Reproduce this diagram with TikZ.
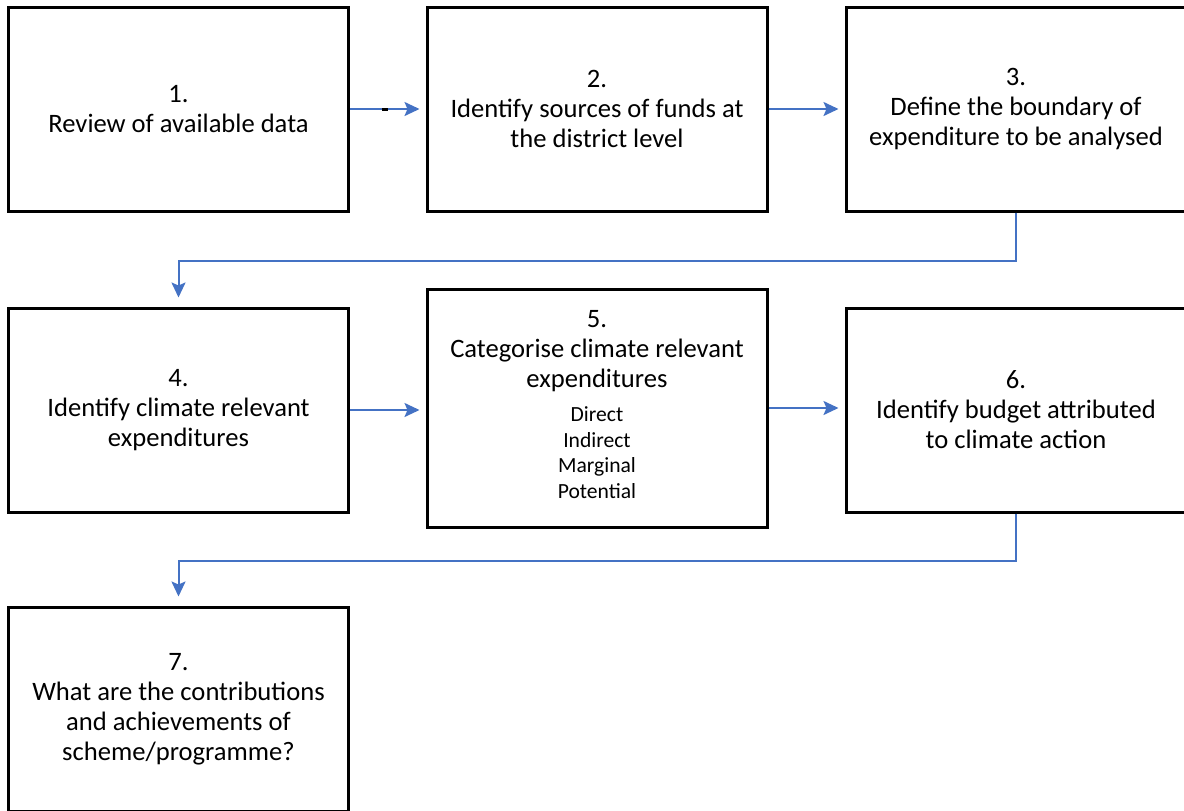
\documentclass[tikz,border=0pt]{standalone}
\usepackage{fontspec}
\setmainfont{Carlito}
\usepackage{xcolor}
\usepackage{tikz}
\usetikzlibrary{arrows.meta}
\definecolor{flowblue}{RGB}{68,114,196}

\begin{document}
\begin{tikzpicture}[x=0.5pt,y=-0.5pt,
			stepbox/.style={draw=black,line width=1.5pt,minimum width=170pt,minimum height=102pt,
				align=center,inner sep=2pt,font=\fontsize{13.3}{15}\selectfont},
			flow/.style={draw=flowblue,line width=1pt,-{Stealth[length=7.5pt,width=7pt,inset=1.5pt]}},
			]
			% page
			\useasboundingbox (0,0) rectangle (1184,810);
			\clip (0,0) rectangle (1184,810);
			
			% first row
			\node[stepbox] (b1) at (178.5,109) {1.\\Review of available data};
			\node[stepbox] (b2) at (597,109) {2.\\Identify sources of funds at\\the district level};
			\node[stepbox] (b3) at (1016,109) {3.\\Define the boundary of\\expenditure to be analysed};
			
			% second row
			\node[stepbox] (b4) at (178.5,410) {4.\\Identify climate relevant\\expenditures};
			\node[stepbox,minimum height=119pt] (b5) at (597,408) {5.\\Categorise climate relevant\\expenditures\\[5pt]
				{\fontsize{10.8}{12.8}\selectfont\begin{tabular}{@{}c@{}}Direct\\Indirect\\Marginal\\Potential\end{tabular}}};
			\node[stepbox] (b6) at (1016,410) {6.\\Identify budget attributed\\to climate action};
			
			% third row
			\node[stepbox] (b7) at (178.5,709) {7.\\What are the contributions\\and achievements of\\scheme/programme?};
			
			% arrows
			\draw[flow,shorten >=3pt] (b1) -- (b2);
			\fill (382,108) rectangle (388,111);
			\draw[flow,shorten >=3pt] (b2) -- (b3);
			\draw[flow,shorten >=4.5pt] (b3.south) -- ++(0,48) -| (b4.north);
			\draw[flow,shorten >=3pt] (b4) -- (b4 -| b5.west);
			\draw[flow,shorten >=3pt] (b5) -- (b5 -| b6.west);
			\draw[flow,shorten >=4.5pt] (b6.south) -- ++(0,47) -| (b7.north);
		\end{tikzpicture}
\end{document}
